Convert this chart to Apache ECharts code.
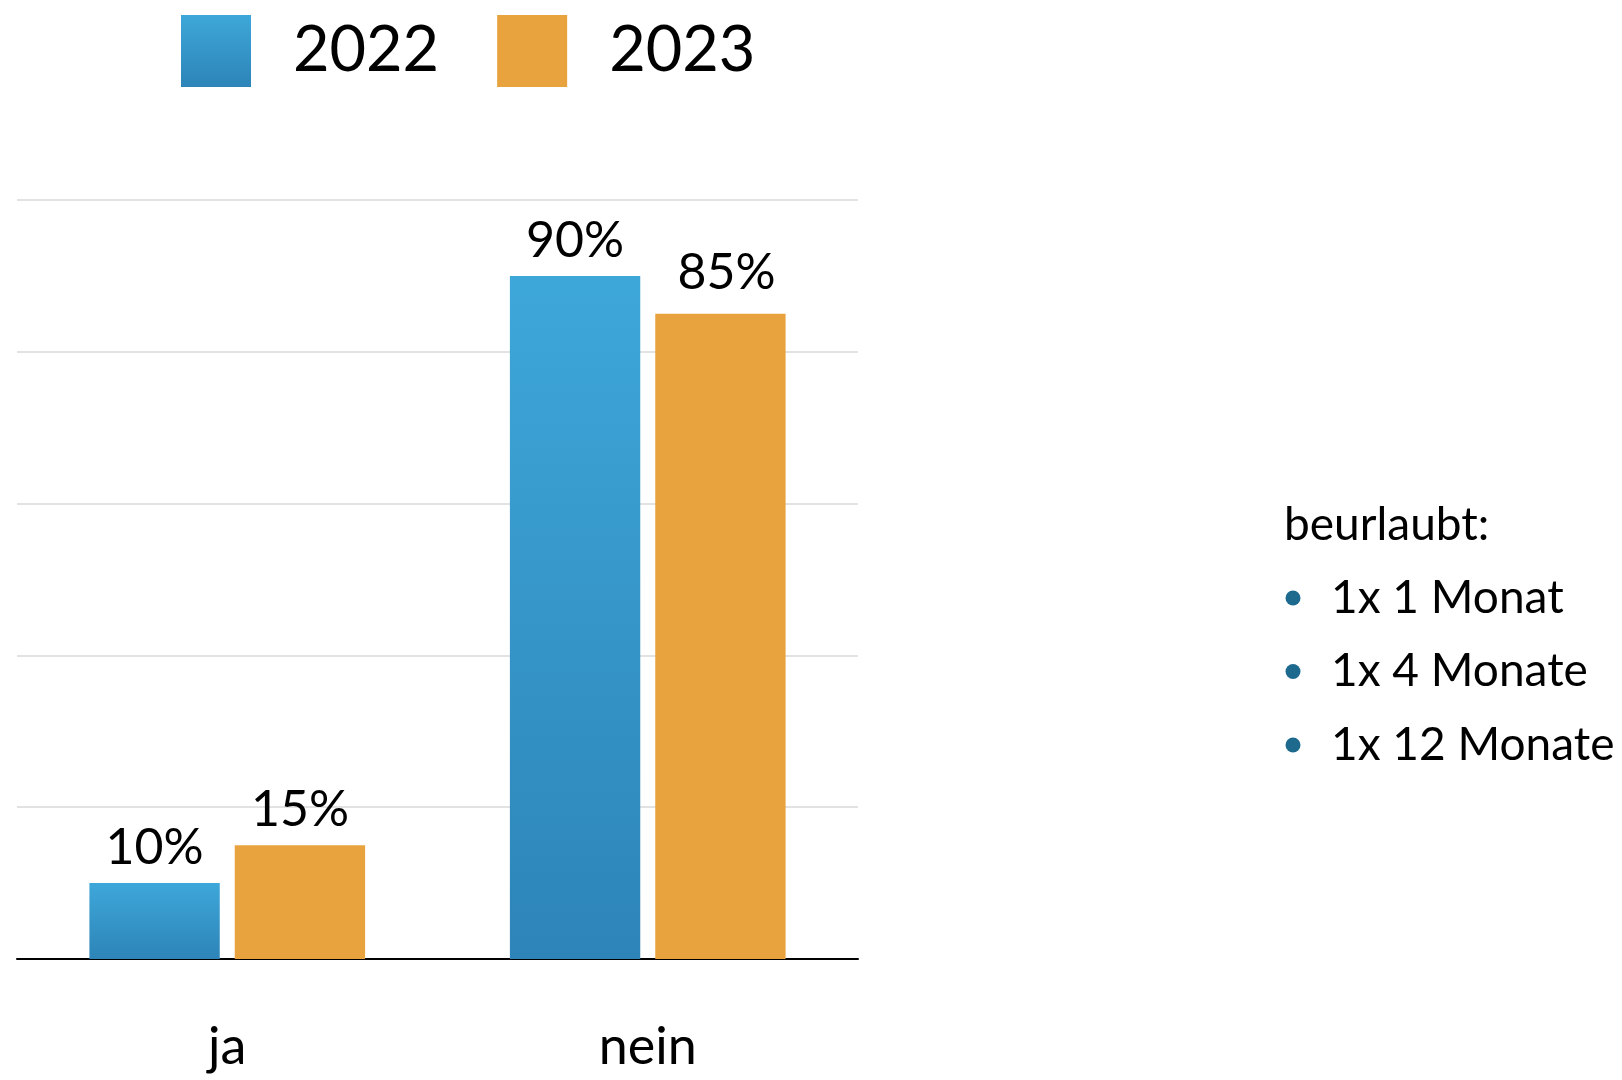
<!DOCTYPE html>
<html>
<head>
<meta charset="utf-8">
<script src="https://cdn.jsdelivr.net/npm/echarts@6/dist/echarts.min.js"></script>
<style>
html,body{margin:0;padding:0;background:#fff;}
#c{width:1622px;height:1080px;}
</style>
</head>
<body>
<div id="c"></div>
<script>
const categories = ['ja', 'nein'];
const seriesNames = ['2022', '2023'];
const values2022 = [10, 90];
const values2023 = [15, 85];
const yTicks = [0, 20, 40, 60, 80, 100];
const noteTitle = 'beurlaubt:';
const noteItems = ['1x 1 Monat', '1x 4 Monate', '1x 12 Monate'];

const FONT = 'Lato, "Noto Sans", sans-serif';
const chart = echarts.init(document.getElementById('c'));

const blueGrad = new echarts.graphic.LinearGradient(0, 0, 0, 1, [
  {offset: 0, color: '#3EA7D9'},
  {offset: 1, color: '#2D84B8'}
]);

const graphics = [{
  type: 'text', left: 1284, top: 502,
  style: {text: noteTitle, font: '46px ' + FONT, fill: '#000'}
}];
noteItems.forEach((t, i) => {
  const cy = 598 + i * 73.5;
  graphics.push({type: 'circle', shape: {cx: 1293, cy: cy, r: 7.5}, style: {fill: '#1E6A8F'}});
  graphics.push({type: 'text', x: 1331, y: cy, style: {text: t, font: '46px ' + FONT, fill: '#000', textVerticalAlign: 'middle'}});
});

const labelBase = {show: true, position: 'top', distance: 10, formatter: '{c}%', fontSize: 50, fontFamily: FONT, color: '#000'};
const data2023 = values2023.map((v, i) => i === 1 ? {value: v, label: {distance: 16, offset: [6, 0]}} : v);

chart.setOption({
  animation: false,
  legend: {
    left: 176, top: 10,
    itemWidth: 70, itemHeight: 72, itemGap: 58,
    icon: 'rect',
    textStyle: {fontSize: 63, fontFamily: FONT, color: '#000', padding: [0, 0, 0, 37]},
    data: seriesNames
  },
  grid: {left: 17, right: 764, top: 200, bottom: 121, containLabel: false},
  xAxis: {
    type: 'category', data: categories,
    axisLine: {lineStyle: {color: '#000', width: 2}},
    axisTick: {show: false},
    axisLabel: {fontSize: 52, fontFamily: FONT, color: '#000', margin: 62}
  },
  yAxis: {
    type: 'value', min: yTicks[0], max: yTicks[yTicks.length - 1], interval: 20,
    axisLabel: {show: false}, axisLine: {show: false}, axisTick: {show: false},
    splitLine: {lineStyle: {color: '#D9D9D9', width: 1.5}}
  },
  series: [
    {
      name: seriesNames[0], type: 'bar', data: values2022,
      barWidth: '31%', barGap: '11.5%',
      itemStyle: {color: blueGrad},
      label: labelBase
    },
    {
      name: seriesNames[1], type: 'bar', data: data2023,
      barWidth: '31%', barGap: '11.5%',
      itemStyle: {color: '#E8A33E'},
      label: labelBase
    }
  ],
  graphic: graphics
});
</script>
</body>
</html>
